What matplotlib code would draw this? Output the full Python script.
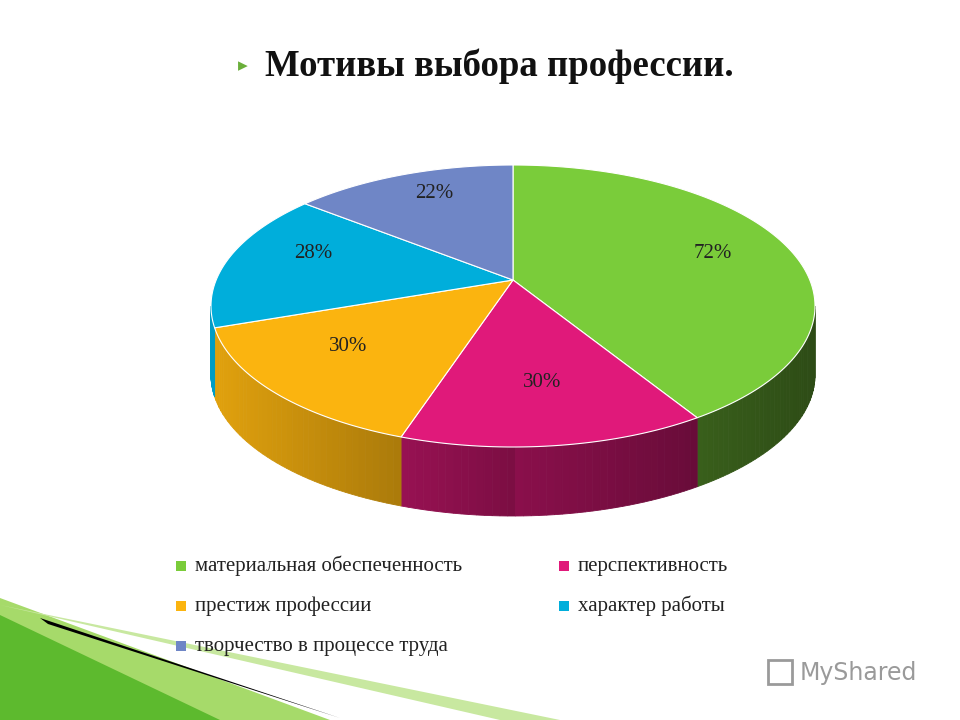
import matplotlib.pyplot as plt
import numpy as np
from matplotlib.patches import Polygon, Rectangle
from matplotlib.colors import to_rgb

labels = ["материальная обеспеченность", "перспективность", "престиж профессии",
          "характер работы", "творчество в процессе труда"]
values = [72, 30, 30, 28, 22]
colors = ["#7ACC3A", "#E0197A", "#FBB40F", "#00AEDB", "#6F86C6"]

# rim ellipse centre, apex (perspective), radii, wall depth
cx, cy, ay, rx, ry, depth = 513, 306, 280, 302, 141, 69

fig = plt.figure(figsize=(9.6, 7.2), dpi=100)
ax = fig.add_axes([0, 0, 1, 1])
ax.set_xlim(0, 960)
ax.set_ylim(720, 0)
ax.axis("off")

# decoration bottom-left
ax.add_patch(Polygon([(0, 598), (0, 720), (330, 720)], closed=True, fc="#A6DA6A", ec="none"))
ax.add_patch(Polygon([(0, 615), (0, 720), (220, 720)], closed=True, fc="#5DBA2E", ec="none"))
ax.add_patch(Polygon([(40, 618), (340, 718), (48, 624)], closed=True, fc="black", ec="none"))
ax.add_patch(Polygon([(0, 605), (560, 720), (500, 720)], closed=True, fc="#C8E8A0", ec="none"))


def pt(t, d=0):
    return cx + rx * np.cos(t), cy - ry * np.sin(t) + d


def darker(c, f):
    r, g, b = to_rgb(c)
    return (r * f, g * f, b * f)


total = sum(values)
starts = []
a = np.pi / 2
for v in values:
    starts.append((a, a - v / total * 2 * np.pi))
    a -= v / total * 2 * np.pi

# side walls
for (a0, a1), c in zip(starts, colors):
    for shift in (0, -2 * np.pi, 2 * np.pi):
        s, e = max(a1 + shift, -np.pi), min(a0 + shift, 0)
        if e <= s:
            continue
        ts = np.linspace(s, e, 121)
        n = 40
        for i in range(n):
            seg = ts[i * 3: i * 3 + 4]
            if len(seg) < 2:
                continue
            pts = [pt(t) for t in seg] + [pt(t, depth) for t in seg[::-1]]
            m = seg.mean()
            f = 0.55 + 0.35 * max(0.0, -np.cos(m)) if np.cos(m) < 0 else 0.62 - 0.25 * np.cos(m)
            col = darker(c, f)
            ax.add_patch(Polygon(pts, closed=True, fc=col, ec=col, lw=0.6))

# tops
for (a0, a1), c, v in zip(starts, colors, values):
    ts = np.linspace(a0, a1, 120)
    pts = [(cx, ay)] + [pt(t) for t in ts]
    ax.add_patch(Polygon(pts, closed=True, fc=c, ec="white", lw=0.8))
    m = (a0 + a1) / 2
    lx, ly = cx + 0.7 * rx * np.cos(m), ay - 0.7 * ry * np.sin(m) + 5
    ax.text(lx, ly, f"{v}%", ha="center", va="center", fontsize=15,
            family="Liberation Serif", color="#222222")

# title
ax.text(243, 66, "▸", fontsize=14, color="#6AAF3A", ha="center", va="center", family="DejaVu Sans")
ax.text(265, 66, "Мотивы выбора профессии.", fontsize=26.5, fontweight="bold",
        family="Liberation Serif", va="center", ha="left", color="#111111")

# legend
pos = [(181, 566), (564, 566), (181, 606), (564, 606), (181, 646)]
for (x, y), lab, c in zip(pos, labels, colors):
    ax.add_patch(Rectangle((x - 5, y - 5), 10, 10, fc=c, ec="none", zorder=5))
    ax.text(x + 14, y, lab, fontsize=15, family="Liberation Serif", va="center", ha="left",
            color="#222222", zorder=5)

ax.text(800, 673, "MyShared", fontsize=17, color="#9A9A9A", va="center", ha="left", family="DejaVu Sans")
ax.add_patch(Rectangle((768, 660), 24, 24, fc="none", ec="#9A9A9A", lw=2))

fig.savefig("out.png", dpi=100)
